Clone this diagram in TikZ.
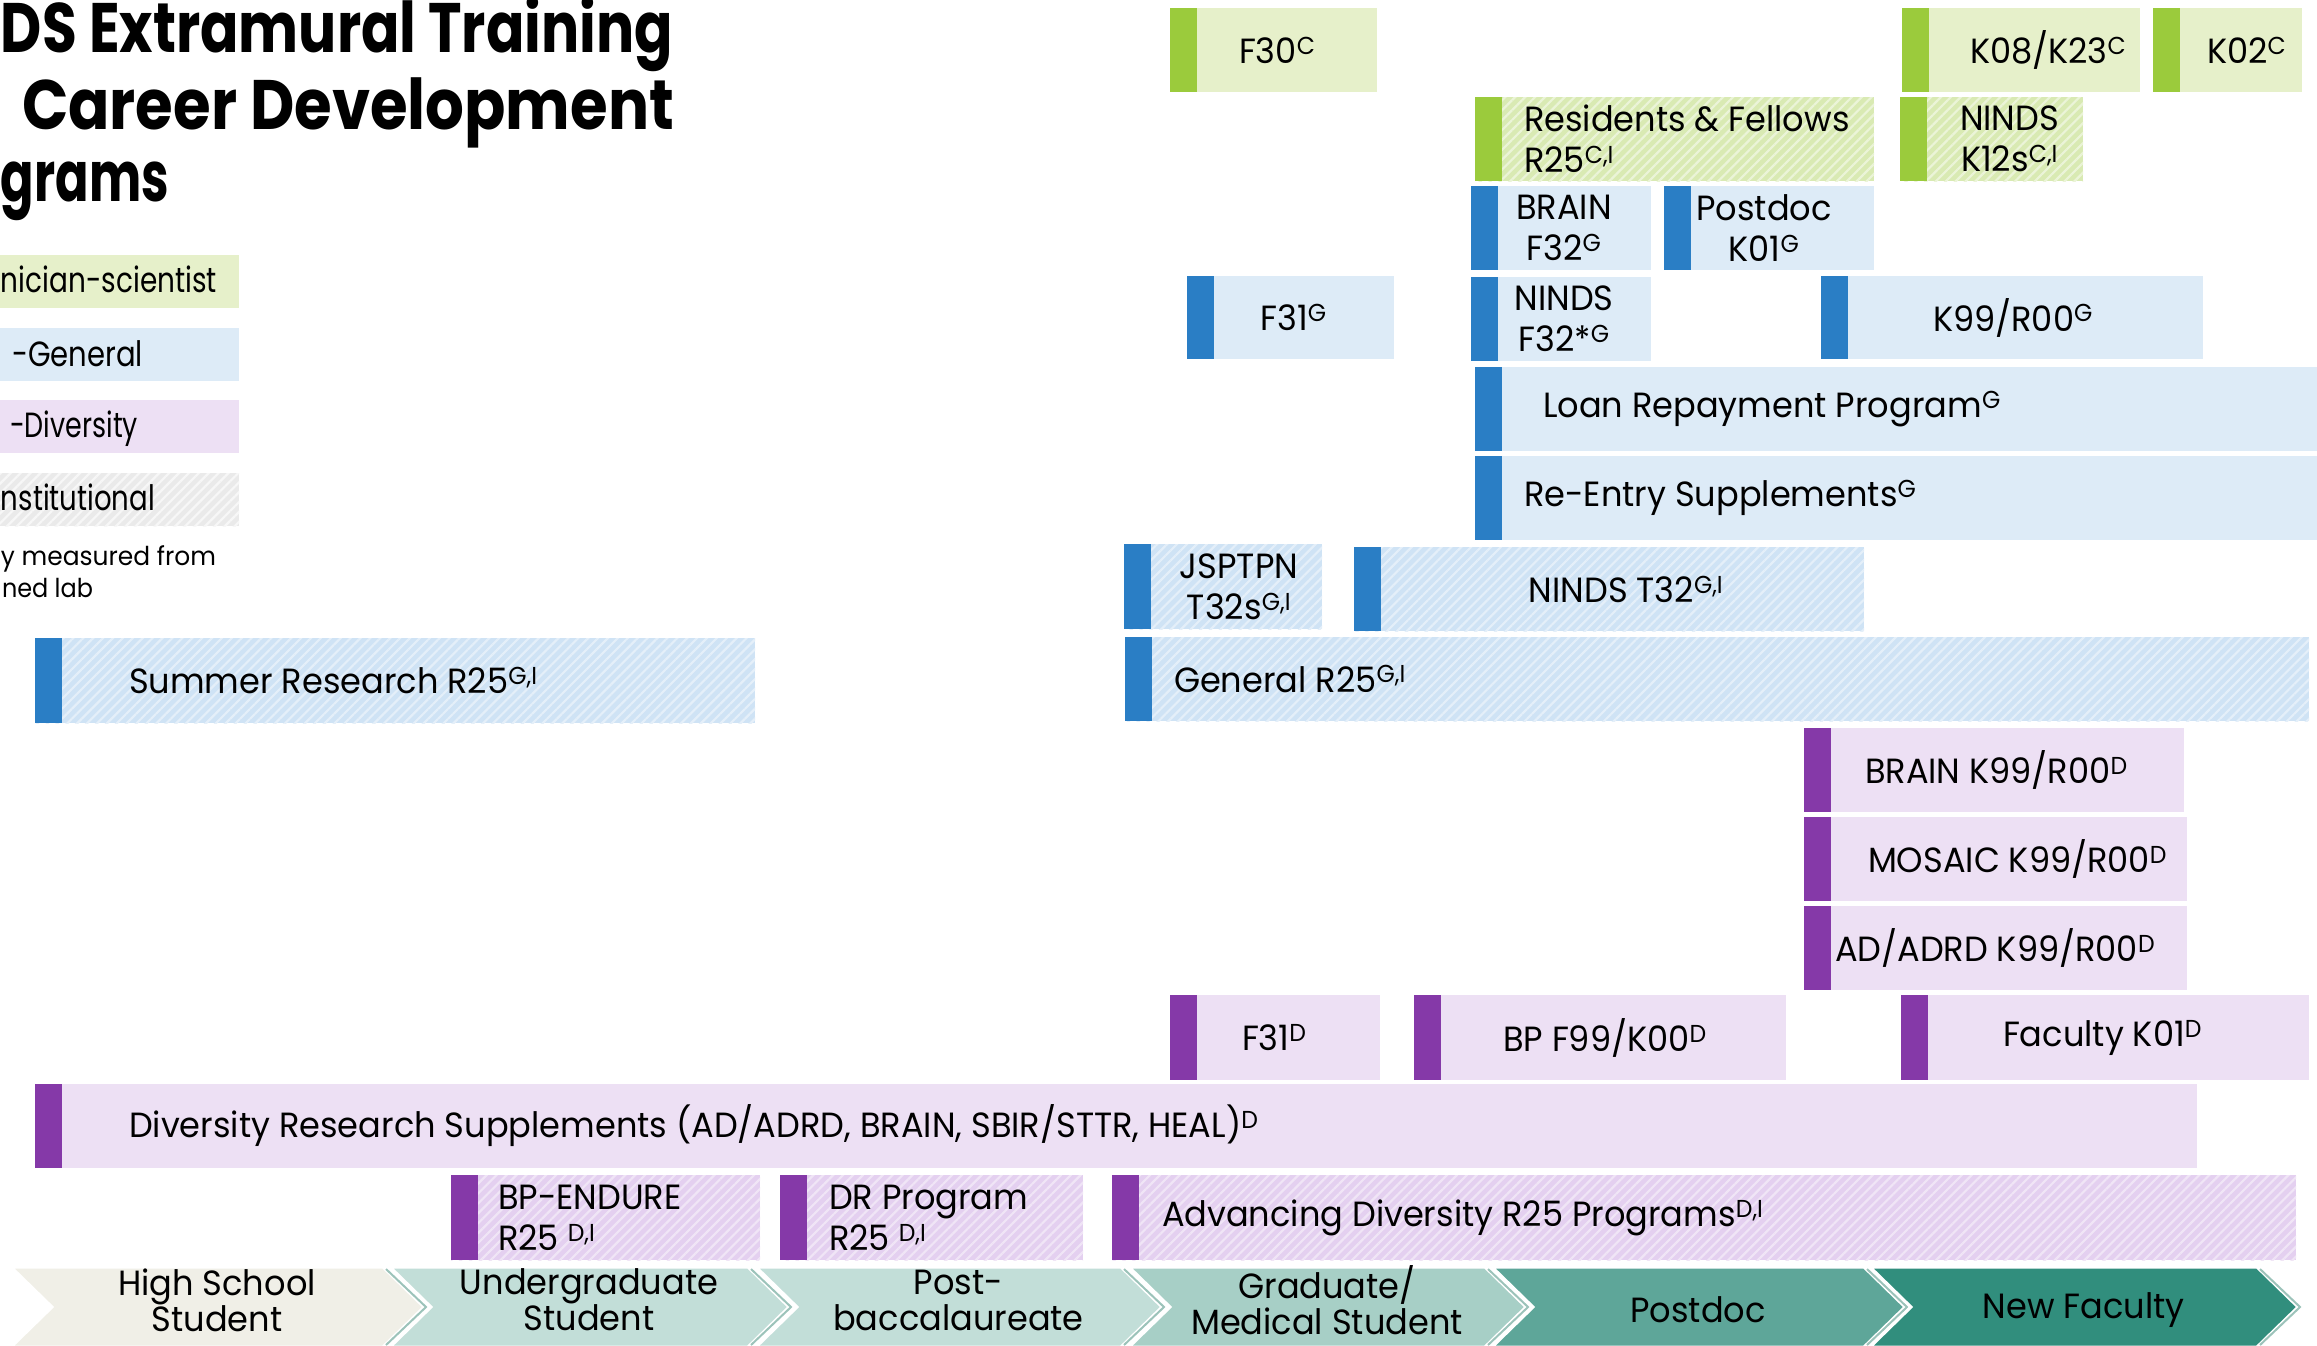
\documentclass[tikz,border=0pt]{standalone}
\usepackage{graphicx}
\usepackage{fontspec}
\setmainfont{Poppins}[FakeStretch=0.96]
\newfontfamily\titlefont{Poppins}
\usetikzlibrary{patterns.meta}
\definecolor{barG}{HTML}{9BCB3C}
\definecolor{fillG}{HTML}{E6F0CA}
\definecolor{hfillG}{HTML}{D9EAB3}
\definecolor{stripeG}{HTML}{EBF4D8}
\definecolor{barB}{HTML}{2A7EC5}
\definecolor{fillB}{HTML}{DDEBF7}
\definecolor{hfillB}{HTML}{CFE3F5}
\definecolor{stripeB}{HTML}{E4EFF9}
\definecolor{barP}{HTML}{8539A8}
\definecolor{fillP}{HTML}{EDE0F4}
\definecolor{hfillP}{HTML}{E4D0F0}
\definecolor{stripeP}{HTML}{F0E5F6}
\definecolor{hfillI}{HTML}{EAEAEA}
\definecolor{stripeI}{HTML}{F7F7F7}
\definecolor{chHS}{HTML}{F0EFE7}
\definecolor{chUG}{HTML}{C2DED8}
\definecolor{chGR}{HTML}{A7CFC6}
\definecolor{chPD}{HTML}{5EA699}
\definecolor{chNF}{HTML}{318E7D}
\definecolor{chEdge}{HTML}{9CC3BA}
\newcommand\spc[1]{\textsuperscript{#1}}
\newcommand\fitw[2]{\resizebox{#1pt}{\height}{#2}}
\newcommand\prog[6]{\node[#2, minimum width={(#5)-(#3)}, minimum height={(#6)-(#4)}] (#1) at (#3,#4) {};}
\newcommand\chev[4]{%
  \path[fill=#4, draw=white, line width=3pt, line join=miter] (#2,1267) -- (#3,1267) -- ({#3+41},1307) -- (#3,1347) -- (#2,1347) -- ({#2+41},1307) -- cycle;
  \draw[chEdge, line width=2pt] ({#3+3},1269) -- ({#3+43},1307) -- ({#3+3},1345);
  \coordinate (#1) at ({(#2+#3)/2+20},1300);}
\tikzset{
  pbox/.style={anchor=north west, inner sep=0pt, outer sep=0pt, draw=none},
  bar/.style={path picture={\fill[#1] (path picture bounding box.north west) rectangle ([xshift=27pt]path picture bounding box.south west);}},
  stripes/.style={pattern={Lines[angle=45,distance=7pt,line width=2.2pt]}, pattern color=#1},
  clin/.style={pbox, fill=fillG, bar=barG},
  clinI/.style={pbox, preaction={fill=hfillG}, stripes=stripeG, bar=barG},
  gen/.style={pbox, fill=fillB, bar=barB},
  genI/.style={pbox, preaction={fill=hfillB}, stripes=stripeB, bar=barB},
  div/.style={pbox, fill=fillP, bar=barP},
  divI/.style={pbox, preaction={fill=hfillP}, stripes=stripeP, bar=barP},
  txt/.style={inner sep=0pt, outer sep=0pt, font=\fontsize{35}{41}\selectfont, text=black},
  ttl/.style={inner sep=0pt, outer sep=0pt, font=\titlefont\bfseries\fontsize{70}{80}\selectfont, anchor=base west},
  lgd/.style={pbox, minimum width=239pt, minimum height=53pt},
  lgt/.style={txt, anchor=base west},
  note/.style={inner sep=0pt, outer sep=0pt, font=\fontsize{26}{32}\selectfont, anchor=base west},
  chtxt/.style={txt, align=center, font=\fontsize{35}{36}\selectfont},
}
\begin{document}
\begin{tikzpicture}[x=1pt,y=-1pt]
\useasboundingbox (0,0) rectangle (2317,1345);
\fill[white] (0,0) rectangle (2317,1345);
% title
\node[ttl] (t1) at (1,52) {\fitw{672}{DS Extramural Training}};
\node[ttl] (t2) at (22,129) {\fitw{652}{Career Development}};
\node[ttl] (t3) at (1,201) {\fitw{168}{grams}};
% legend
\node[lgd, fill=fillG] (lg1) at (0,255) {};
\node[lgd, fill=fillB] (lg2) at (0,328) {};
\node[lgd, fill=fillP] (lg3) at (0,400) {};
\node[lgd, preaction={fill=hfillI}, stripes=stripeI] (lg4) at (0,473) {};
\node[lgt] (lg1-t) at (1,292) {\fitw{216}{nician-scientist}};
\node[lgt] (lg2-t) at (12,366) {\fitw{131}{-General}};
\node[lgt] (lg3-t) at (10,437) {\fitw{128}{-Diversity}};
\node[lgt] (lg4-t) at (1,510) {\fitw{154}{nstitutional}};
\node[note] (n1) at (1,565) {\fitw{215}{y measured from}};
\node[note] (n2) at (2,597) {\fitw{91}{ned lab}};
% boxes
\prog{f30}{clin}{1170}{8}{1377}{92}
\prog{k08}{clin}{1902}{8}{2140}{92}
\prog{k02}{clin}{2153}{8}{2302}{92}
\prog{res}{clinI}{1475}{97}{1874}{181}
\prog{k12}{clinI}{1900}{97}{2083}{181}
\prog{bf32}{gen}{1471}{186}{1651}{270}
\prog{pk01}{gen}{1664}{186}{1874}{270}
\prog{f31g}{gen}{1187}{276}{1394}{359}
\prog{nf32}{gen}{1471}{277}{1651}{361}
\prog{k99g}{gen}{1821}{276}{2203}{359}
\prog{lrp}{gen}{1475}{367}{2317}{451}
\prog{reent}{gen}{1475}{456}{2317}{540}
\prog{jsp}{genI}{1124}{544}{1322}{629}
\prog{nt32}{genI}{1354}{547}{1864}{631}
\prog{summer}{genI}{35}{638}{755}{723}
\prog{genr}{genI}{1125}{637}{2309}{721}
\prog{bk99}{div}{1804}{728}{2184}{812}
\prog{mosaic}{div}{1804}{817}{2187}{901}
\prog{adrd}{div}{1804}{906}{2187}{990}
\prog{f31d}{div}{1170}{995}{1380}{1080}
\prog{bpf}{div}{1414}{995}{1786}{1080}
\prog{fk01}{div}{1901}{995}{2309}{1080}
\prog{drs}{div}{35}{1084}{2197}{1168}
\prog{endure}{divI}{451}{1175}{760}{1260}
\prog{drp}{divI}{780}{1175}{1083}{1260}
\prog{adv}{divI}{1112}{1175}{2296}{1260}
% box texts
\node[txt, anchor=west] (f30-t) at ([xshift=69pt]f30.west) {F30\spc{C}};
\node[txt, anchor=west] (k08-t) at ([xshift=68pt]k08.west) {K08/K23\spc{C}};
\node[txt, anchor=west] (k02-t) at ([xshift=54pt]k02.west) {K02\spc{C}};
\node[txt, anchor=west, align=left] (res-t) at ([xshift=49pt]res.west) {Residents \& Fellows\\R25\spc{C,I}};
\node[txt, align=center] (k12-t) at ([xshift=18pt]k12.center) {NINDS\\K12s\spc{C,I}};
\node[txt, align=center] (bf32-t) at ([xshift=3pt]bf32.center) {BRAIN\\F32\spc{G}};
\node[txt, align=center] (pk01-t) at ([xshift=-5pt]pk01.center) {Postdoc\\K01\spc{G}};
\node[txt] (f31g-t) at ([xshift=3pt]f31g.center) {F31\spc{G}};
\node[txt, align=center] (nf32-t) at ([xshift=3pt]nf32.center) {NINDS\\F32*\spc{G}};
\node[txt] (k99g-t) at ([xshift=1pt]k99g.center) {K99/R00\spc{G}};
\node[txt, anchor=west] (lrp-t) at ([xshift=68pt]lrp.west) {Loan Repayment Program\spc{G}};
\node[txt, anchor=west] (reent-t) at ([xshift=49pt]reent.west) {Re-Entry Supplements\spc{G}};
\node[txt, align=center] (jsp-t) at ([xshift=16pt]jsp.center) {JSPTPN\\T32s\spc{G,I}};
\node[txt] (nt32-t) at ([xshift=17pt]nt32.center) {NINDS T32\spc{G,I}};
\node[txt, anchor=west] (summer-t) at ([xshift=94pt]summer.west) {Summer Research R25\spc{G,I}};
\node[txt, anchor=west] (genr-t) at ([xshift=49pt]genr.west) {General R25\spc{G,I}};
\node[txt, anchor=west] (bk99-t) at ([xshift=61pt]bk99.west) {BRAIN K99/R00\spc{D}};
\node[txt, anchor=west] (mosaic-t) at ([xshift=64pt]mosaic.west) {MOSAIC K99/R00\spc{D}};
\node[txt, anchor=west] (adrd-t) at ([xshift=31pt]adrd.west) {AD/ADRD K99/R00\spc{D}};
\node[txt, anchor=west] (f31d-t) at ([xshift=72pt]f31d.west) {F31\spc{D}};
\node[txt, anchor=west] (bpf-t) at ([xshift=89pt]bpf.west) {BP F99/K00\spc{D}};
\node[txt, anchor=west] (fk01-t) at ([xshift=102pt]fk01.west) {Faculty K01\spc{D}};
\node[txt, anchor=west] (drs-t) at ([xshift=94pt]drs.west) {Diversity Research Supplements (AD/ADRD, BRAIN, SBIR/STTR, HEAL)\spc{D}};
\node[txt, anchor=west, align=left] (endure-t) at ([xshift=47pt]endure.west) {BP-ENDURE\\R25 \spc{D,I}};
\node[txt, anchor=west, align=left] (drp-t) at ([xshift=49pt]drp.west) {DR Program\\R25 \spc{D,I}};
\node[txt, anchor=west] (adv-t) at ([xshift=50pt]adv.west) {Advancing Diversity R25 Programs\spc{D,I}};
% career stages
\begin{scope}
\clip (0,0) rectangle (2317,1345);
\chev{hs}{11}{383}{chHS}
\chev{ug}{390}{748}{chUG}
\chev{pb}{756}{1121}{chUG}
\chev{gr}{1129}{1485}{chGR}
\chev{pd}{1492}{1864}{chPD}
\chev{nf}{1870}{2257}{chNF}
\end{scope}
\node[chtxt] (hs-t) at (hs) {High School\\Student};
\node[chtxt] (ug-t) at (ug) {Undergraduate\\Student};
\node[chtxt] (pb-t) at (pb) {Post-\\baccalaureate};
\node[chtxt] (gr-t) at (gr) {Graduate/\\Medical Student};
\node[chtxt] (pd-t) at ([yshift=-10pt]pd) {Postdoc};
\node[chtxt] (nf-t) at ([yshift=-10pt]nf) {New Faculty};
\end{tikzpicture}
\end{document}
